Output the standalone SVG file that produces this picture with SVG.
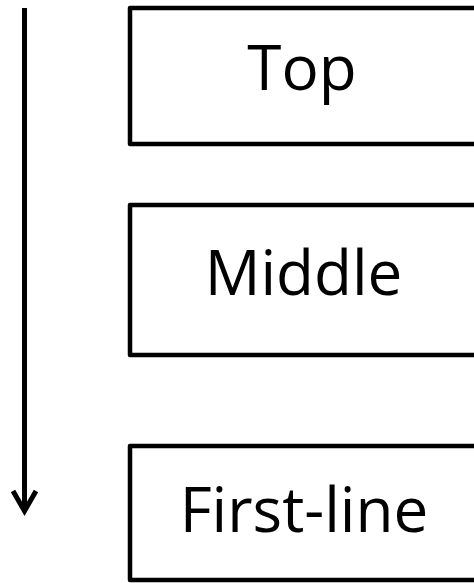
<svg xmlns="http://www.w3.org/2000/svg" width="474" height="583" viewBox="0 0 474 583">
<style>
.box{fill:#fff;stroke:#000;stroke-width:4.5;stroke-linejoin:round}
.lbl{font-family:"Open Sans","Liberation Sans",sans-serif;font-size:62px;fill:#000;text-anchor:middle}
.conn{stroke:#000;stroke-width:5;fill:none}
</style>
<rect width="474" height="583" fill="#fff"/>
<g id="connectors">
<line class="conn" x1="24.5" y1="8" x2="24.5" y2="510"/>
<polyline class="conn" points="13,491 24.5,511 36,491" stroke-linejoin="miter"/>
</g>
<g id="top">
<rect class="box" x="130" y="8" width="360" height="136"/>
<text class="lbl" x="302" y="90">Top</text>
</g>
<g id="middle">
<rect class="box" x="130" y="205" width="360" height="150"/>
<text class="lbl" x="303.5" y="295">Middle</text>
</g>
<g id="first-line">
<rect class="box" x="130" y="446" width="360" height="134"/>
<text class="lbl" x="304" y="532">First-line</text>
</g>
</svg>
